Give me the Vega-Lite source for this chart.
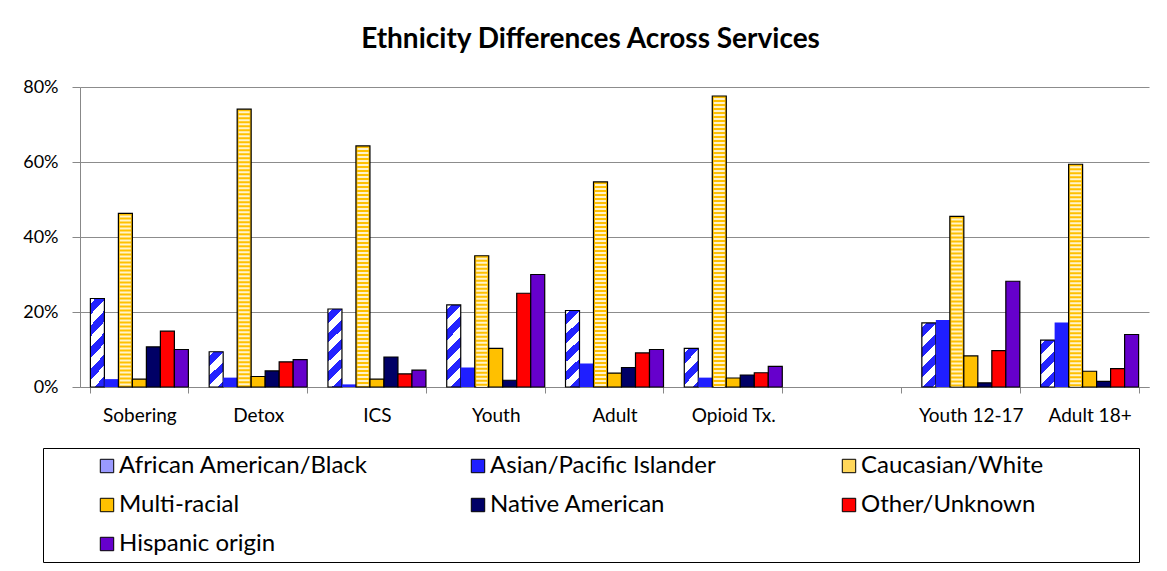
{
  "$schema": "https://vega.github.io/schema/vega-lite/v6.json",
  "width": 1069,
  "height": 300,
  "autosize": {"type": "none"},
  "padding": {"left": 80, "top": 87, "right": 18, "bottom": 184},
  "background": "white",
  "config": {
    "view": {"stroke": null},
    "font": "Lato"
  },
  "title": {
    "text": "Ethnicity Differences Across Services",
    "font": "Lato",
    "fontSize": 28,
    "fontWeight": "bold",
    "color": "black",
    "anchor": "middle",
    "dx": -24,
    "offset": 24
  },
  "data": {
    "values": [
      {"service": "Sobering", "eth": "African American/Black", "pct": 23.6},
      {"service": "Sobering", "eth": "Asian/Pacific Islander", "pct": 2.1},
      {"service": "Sobering", "eth": "Caucasian/White", "pct": 46.3},
      {"service": "Sobering", "eth": "Multi-racial", "pct": 2.1},
      {"service": "Sobering", "eth": "Native American", "pct": 10.7},
      {"service": "Sobering", "eth": "Other/Unknown", "pct": 14.9},
      {"service": "Sobering", "eth": "Hispanic origin", "pct": 10.0},
      {"service": "Detox", "eth": "African American/Black", "pct": 9.4},
      {"service": "Detox", "eth": "Asian/Pacific Islander", "pct": 2.5},
      {"service": "Detox", "eth": "Caucasian/White", "pct": 74.1},
      {"service": "Detox", "eth": "Multi-racial", "pct": 2.8},
      {"service": "Detox", "eth": "Native American", "pct": 4.3},
      {"service": "Detox", "eth": "Other/Unknown", "pct": 6.7},
      {"service": "Detox", "eth": "Hispanic origin", "pct": 7.3},
      {"service": "ICS", "eth": "African American/Black", "pct": 20.8},
      {"service": "ICS", "eth": "Asian/Pacific Islander", "pct": 0.7},
      {"service": "ICS", "eth": "Caucasian/White", "pct": 64.3},
      {"service": "ICS", "eth": "Multi-racial", "pct": 2.1},
      {"service": "ICS", "eth": "Native American", "pct": 8.0},
      {"service": "ICS", "eth": "Other/Unknown", "pct": 3.5},
      {"service": "ICS", "eth": "Hispanic origin", "pct": 4.5},
      {"service": "Youth", "eth": "African American/Black", "pct": 21.9},
      {"service": "Youth", "eth": "Asian/Pacific Islander", "pct": 5.2},
      {"service": "Youth", "eth": "Caucasian/White", "pct": 35.0},
      {"service": "Youth", "eth": "Multi-racial", "pct": 10.3},
      {"service": "Youth", "eth": "Native American", "pct": 1.8},
      {"service": "Youth", "eth": "Other/Unknown", "pct": 25.0},
      {"service": "Youth", "eth": "Hispanic origin", "pct": 30.0},
      {"service": "Adult", "eth": "African American/Black", "pct": 20.4},
      {"service": "Adult", "eth": "Asian/Pacific Islander", "pct": 6.3},
      {"service": "Adult", "eth": "Caucasian/White", "pct": 54.7},
      {"service": "Adult", "eth": "Multi-racial", "pct": 3.7},
      {"service": "Adult", "eth": "Native American", "pct": 5.2},
      {"service": "Adult", "eth": "Other/Unknown", "pct": 9.1},
      {"service": "Adult", "eth": "Hispanic origin", "pct": 10.0},
      {"service": "Opioid Tx.", "eth": "African American/Black", "pct": 10.3},
      {"service": "Opioid Tx.", "eth": "Asian/Pacific Islander", "pct": 2.5},
      {"service": "Opioid Tx.", "eth": "Caucasian/White", "pct": 77.6},
      {"service": "Opioid Tx.", "eth": "Multi-racial", "pct": 2.4},
      {"service": "Opioid Tx.", "eth": "Native American", "pct": 3.2},
      {"service": "Opioid Tx.", "eth": "Other/Unknown", "pct": 3.8},
      {"service": "Opioid Tx.", "eth": "Hispanic origin", "pct": 5.5},
      {"service": "Youth 12-17", "eth": "African American/Black", "pct": 17.1},
      {"service": "Youth 12-17", "eth": "Asian/Pacific Islander", "pct": 17.9},
      {"service": "Youth 12-17", "eth": "Caucasian/White", "pct": 45.5},
      {"service": "Youth 12-17", "eth": "Multi-racial", "pct": 8.3},
      {"service": "Youth 12-17", "eth": "Native American", "pct": 1.1},
      {"service": "Youth 12-17", "eth": "Other/Unknown", "pct": 9.7},
      {"service": "Youth 12-17", "eth": "Hispanic origin", "pct": 28.2},
      {"service": "Adult 18+", "eth": "African American/Black", "pct": 12.5},
      {"service": "Adult 18+", "eth": "Asian/Pacific Islander", "pct": 17.2},
      {"service": "Adult 18+", "eth": "Caucasian/White", "pct": 59.4},
      {"service": "Adult 18+", "eth": "Multi-racial", "pct": 4.2},
      {"service": "Adult 18+", "eth": "Native American", "pct": 1.5},
      {"service": "Adult 18+", "eth": "Other/Unknown", "pct": 4.9},
      {"service": "Adult 18+", "eth": "Hispanic origin", "pct": 14.0}
    ]
  },
  "encoding": {
    "x": {
      "field": "service",
      "type": "nominal",
      "sort": null,
      "scale": {
        "domain": ["Sobering", "Detox", "ICS", "Youth", "Adult", "Opioid Tx.", " ", "Youth 12-17", "Adult 18+"],
        "paddingInner": 0.175,
        "paddingOuter": 0.0875
      },
      "axis": {
        "title": null,
        "labelAngle": 0,
        "labelFont": "Lato",
        "labelFontSize": 19,
        "labelColor": "black",
        "labelPadding": 13,
        "domainColor": "#888888",
        "tickColor": "#888888",
        "tickSize": 6,
        "tickBand": "extent",
        "grid": false
      }
    },
    "xOffset": {
      "field": "eth",
      "type": "nominal",
      "sort": null,
      "scale": {
        "domain": ["African American/Black", "Asian/Pacific Islander", "Caucasian/White", "Multi-racial", "Native American", "Other/Unknown", "Hispanic origin"],
        "paddingInner": 0,
        "paddingOuter": 0
      }
    },
    "y": {
      "field": "pct",
      "type": "quantitative",
      "scale": {"domain": [0, 80], "nice": false},
      "axis": {
        "title": null,
        "values": [0, 20, 40, 60, 80],
        "labelExpr": "datum.value + '%'",
        "labelFont": "Lato",
        "labelFontSize": 18,
        "labelColor": "black",
        "labelPadding": 14,
        "grid": true,
        "gridColor": "#8c8c8c",
        "domainColor": "#888888",
        "tickColor": "#888888",
        "tickSize": 8
      }
    }
  },
  "layer": [
    {
      "mark": {"type": "bar", "strokeWidth": 1.2},
      "encoding": {
        "color": {
          "condition": [
            {
              "test": "datum.eth === 'African American/Black' && datum.pct >= 19",
              "value": {
                "gradient": "linear", "x1": 0, "y1": 0, "x2": 0.1968, "y2": 1.1388,
                "stops": [
                  {"offset": 0, "color": "#ffffff"}, {"offset": 0.0526, "color": "#ffffff"},
                  {"offset": 0.0526, "color": "#2323ff"}, {"offset": 0.1579, "color": "#2323ff"},
                  {"offset": 0.1579, "color": "#ffffff"}, {"offset": 0.2632, "color": "#ffffff"},
                  {"offset": 0.2632, "color": "#2323ff"}, {"offset": 0.3684, "color": "#2323ff"},
                  {"offset": 0.3684, "color": "#ffffff"}, {"offset": 0.4737, "color": "#ffffff"},
                  {"offset": 0.4737, "color": "#2323ff"}, {"offset": 0.5789, "color": "#2323ff"},
                  {"offset": 0.5789, "color": "#ffffff"}, {"offset": 0.6842, "color": "#ffffff"},
                  {"offset": 0.6842, "color": "#2323ff"}, {"offset": 0.7895, "color": "#2323ff"},
                  {"offset": 0.7895, "color": "#ffffff"}, {"offset": 0.8947, "color": "#ffffff"},
                  {"offset": 0.8947, "color": "#2323ff"}, {"offset": 1, "color": "#2323ff"}
                ]
              }
            },
            {
              "test": "datum.eth === 'African American/Black' && datum.pct >= 15",
              "value": {
                "gradient": "linear", "x1": 0, "y1": 0, "x2": 0.2544, "y2": 1.1631,
                "stops": [
                  {"offset": 0, "color": "#ffffff"}, {"offset": 0.0641, "color": "#ffffff"},
                  {"offset": 0.0641, "color": "#2323ff"}, {"offset": 0.1923, "color": "#2323ff"},
                  {"offset": 0.1923, "color": "#ffffff"}, {"offset": 0.3205, "color": "#ffffff"},
                  {"offset": 0.3205, "color": "#2323ff"}, {"offset": 0.4487, "color": "#2323ff"},
                  {"offset": 0.4487, "color": "#ffffff"}, {"offset": 0.5769, "color": "#ffffff"},
                  {"offset": 0.5769, "color": "#2323ff"}, {"offset": 0.7051, "color": "#2323ff"},
                  {"offset": 0.7051, "color": "#ffffff"}, {"offset": 0.8333, "color": "#ffffff"},
                  {"offset": 0.8333, "color": "#2323ff"}, {"offset": 0.9615, "color": "#2323ff"},
                  {"offset": 0.9615, "color": "#ffffff"}, {"offset": 1, "color": "#ffffff"}
                ]
              }
            },
            {
              "test": "datum.eth === 'African American/Black' && datum.pct >= 11",
              "value": {
                "gradient": "linear", "x1": 0, "y1": 0, "x2": 0.3551, "y2": 1.1921,
                "stops": [
                  {"offset": 0, "color": "#ffffff"}, {"offset": 0.082, "color": "#ffffff"},
                  {"offset": 0.082, "color": "#2323ff"}, {"offset": 0.2459, "color": "#2323ff"},
                  {"offset": 0.2459, "color": "#ffffff"}, {"offset": 0.4098, "color": "#ffffff"},
                  {"offset": 0.4098, "color": "#2323ff"}, {"offset": 0.5738, "color": "#2323ff"},
                  {"offset": 0.5738, "color": "#ffffff"}, {"offset": 0.7377, "color": "#ffffff"},
                  {"offset": 0.7377, "color": "#2323ff"}, {"offset": 0.9016, "color": "#2323ff"},
                  {"offset": 0.9016, "color": "#ffffff"}, {"offset": 1, "color": "#ffffff"}
                ]
              }
            },
            {
              "test": "datum.eth === 'African American/Black'",
              "value": {
                "gradient": "linear", "x1": 0, "y1": 0, "x2": 0.4562, "y2": 1.2058,
                "stops": [
                  {"offset": 0, "color": "#ffffff"}, {"offset": 0.098, "color": "#ffffff"},
                  {"offset": 0.098, "color": "#2323ff"}, {"offset": 0.2941, "color": "#2323ff"},
                  {"offset": 0.2941, "color": "#ffffff"}, {"offset": 0.4902, "color": "#ffffff"},
                  {"offset": 0.4902, "color": "#2323ff"}, {"offset": 0.6863, "color": "#2323ff"},
                  {"offset": 0.6863, "color": "#ffffff"}, {"offset": 0.8824, "color": "#ffffff"},
                  {"offset": 0.8824, "color": "#2323ff"}, {"offset": 1, "color": "#2323ff"}
                ]
              }
            },
            {"test": "datum.eth === 'Caucasian/White'", "value": "#ffc000"}
          ],
          "field": "eth",
          "type": "nominal",
          "sort": null,
          "scale": {
            "domain": ["African American/Black", "Asian/Pacific Islander", "Caucasian/White", "Multi-racial", "Native American", "Other/Unknown", "Hispanic origin"],
            "range": ["#9a9aff", "#1f1fff", "#ffd75a", "#ffc000", "#000066", "#ff0000", "#6600cc"]
          },
          "legend": {
            "title": " ",
            "titleOrient": "right",
            "titlePadding": 90,
            "orient": "none",
            "legendX": -37,
            "legendY": 361,
            "direction": "horizontal",
            "columns": 3,
            "gridAlign": "all",
            "columnPadding": 52,
            "rowPadding": 15,
            "padding": 6,
            "strokeColor": "black",
            "labelFont": "Lato",
            "labelFontSize": 24,
            "labelColor": "black",
            "labelLimit": 400,
            "labelOffset": 0,
            "symbolType": "square",
            "symbolSize": 180,
            "symbolStrokeWidth": 1,
            "symbolStrokeColor": "black",
            "symbolOffset": 46
          }
        },
        "stroke": {
          "condition": {"test": "datum.eth === 'Asian/Pacific Islander'", "value": null},
          "value": "black"
        }
      }
    },
    {
      "transform": [{"filter": "datum.eth === 'Caucasian/White'"}],
      "mark": {"type": "rule", "stroke": "#fff3cc", "strokeWidth": 11, "strokeDash": [2, 2], "strokeDashOffset": 2},
      "encoding": {
        "y2": {"datum": 0}
      }
    }
  ]
}
